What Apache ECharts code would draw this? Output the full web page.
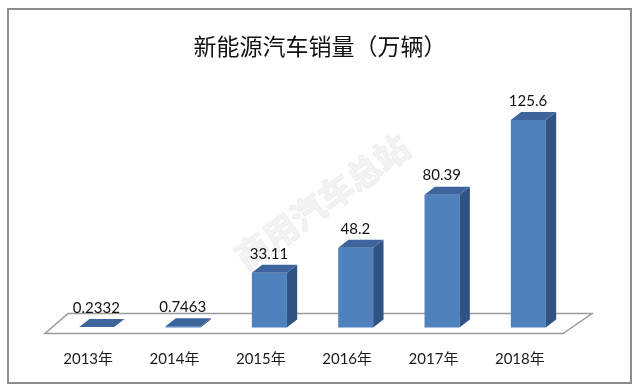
<!DOCTYPE html>
<html>
<head>
<meta charset="utf-8">
<script src="https://cdn.jsdelivr.net/npm/echarts@6/dist/echarts.min.js"></script>
<style>
html,body{margin:0;padding:0;background:#fff;}
#chart{width:640px;height:392px;}
</style>
</head>
<body>
<div id="chart"></div>
<script>
var titleText = '新能源汽车销量（万辆）';
var categories = ['2013年', '2014年', '2015年', '2016年', '2017年', '2018年'];
var sales = [0.2332, 0.7463, 33.11, 48.2, 80.39, 125.6];
var valueLabels = ['0.2332', '0.7463', '33.11', '48.2', '80.39', '125.6'];
var watermark = '商用汽车总站';

var FRONT = '#4f81bd', SIDE = '#2f5383', TOP = '#3d649c';

function renderBar(params, api) {
  var i = api.value(0), v = api.value(1);
  var band = api.size([1, 0])[0];
  var base = api.coord([i, 0]);
  var top = api.coord([i, v]);
  var cx = base[0];
  var xl = cx - band * 0.104;
  var w = band * 0.405;
  var xr = xl + w;
  var dx = band * 0.12, dy = band * 0.093;
  var yb = base[1], yt = top[1];
  var kids = [];
  if (yb - yt > 0.5) {
    kids.push({type: 'polygon', shape: {points: [[xl, yt], [xr, yt], [xr, yb], [xl, yb]]}, style: {fill: FRONT}});
    kids.push({type: 'polygon', shape: {points: [[xr, yt], [xr + dx, yt - dy], [xr + dx, yb - dy], [xr, yb]]}, style: {fill: SIDE}});
  }
  kids.push({type: 'polygon', shape: {points: [[xl, yt], [xr, yt], [xr + dx, yt - dy], [xl + dx, yt - dy]]}, style: {fill: TOP}});
  kids.push({type: 'text', style: {text: valueLabels[params.dataIndex], x: cx + band * 0.095, y: yt - dy - 11,
    align: 'center', verticalAlign: 'middle', fill: '#111', fontSize: 15, fontFamily: 'Lato, "Open Sans", sans-serif'}});
  return {type: 'group', children: kids};
}

function renderFloor(params, api) {
  var band = api.size([1, 0])[0];
  var first = api.coord([0, 0]);
  var last = api.coord([categories.length - 1, 0]);
  var l = first[0] - band / 2, r = last[0] + band / 2;
  var y = first[1];
  return {type: 'polygon', shape: {points: [[l, y + 6], [r, y + 6], [r + 29, y - 14], [l + 23, y - 14]]},
    style: {fill: '#fff', stroke: '#9a9a9a', lineWidth: 1.5}};
}

var chart = echarts.init(document.getElementById('chart'), null, {renderer: 'canvas'});
chart.setOption({
  backgroundColor: '#fff',
  animation: false,
  title: {text: titleText, left: 'center', top: 30,
    textStyle: {fontSize: 23, fontWeight: 'normal', color: '#111', fontFamily: '"Noto Sans CJK SC", sans-serif'}},
  grid: {left: 45, right: 77, top: 96.2, bottom: 64.5, containLabel: false},
  xAxis: {type: 'category', data: categories,
    axisLine: {show: false}, axisTick: {show: false},
    axisLabel: {margin: 24, fontSize: 15, color: '#1a1a1a', fontFamily: 'Lato, "Noto Sans CJK SC", sans-serif'}},
  yAxis: {type: 'value', min: 0, max: 140, show: false, splitLine: {show: false}},
  graphic: [
    {type: 'rect', shape: {x: 8, y: 9, width: 623, height: 374}, style: {fill: null, stroke: '#8c8c8c', lineWidth: 2}, z: 100},
    {type: 'text', x: 322, y: 202, rotation: 0.62, z: 0,
      style: {text: watermark, align: 'center', verticalAlign: 'middle', fontSize: 34, fontWeight: 'bold',
        fill: 'rgba(238,238,238,0.7)', stroke: 'rgba(215,215,215,0.45)', lineWidth: 1, fontFamily: '"Noto Sans CJK SC", sans-serif'}}
  ],
  series: [
    {type: 'custom', renderItem: renderFloor, data: [[0, 0]], z: 1, silent: true},
    {type: 'custom', renderItem: renderBar, data: sales.map(function (v, i) { return [i, v]; }), z: 2,
      encode: {x: 0, y: 1}}
  ]
});
</script>
</body>
</html>
